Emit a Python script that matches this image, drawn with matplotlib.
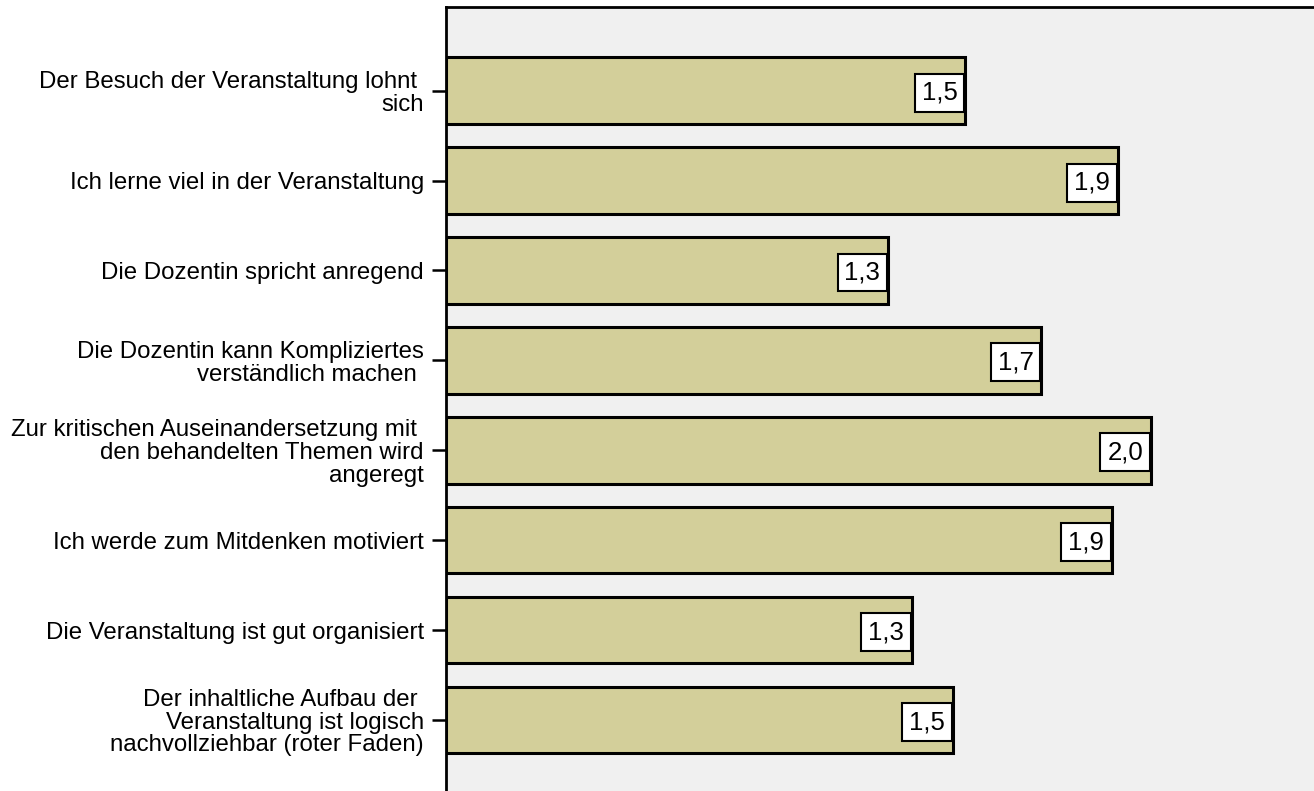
import numpy as np
import matplotlib.pyplot as plt

plt.rcParams['font.family'] = ['Liberation Sans', 'DejaVu Sans']

# items top to bottom
items = [
    "Der Besuch der Veranstaltung lohnt \nsich",
    "Ich lerne viel in der Veranstaltung",
    "Die Dozentin spricht anregend",
    "Die Dozentin kann Kompliziertes\nverständlich machen ",
    "Zur kritischen Auseinandersetzung mit \nden behandelten Themen wird\nangeregt",
    "Ich werde zum Mitdenken motiviert",
    "Die Veranstaltung ist gut organisiert",
    "Der inhaltliche Aufbau der \nVeranstaltung ist logisch\nnachvollziehbar (roter Faden)",
]
means = [1.495, 1.935, 1.273, 1.714, 2.03, 1.918, 1.342, 1.46]

BAR = "#d3cf9a"
BG = "#f0f0f0"

fig = plt.figure(figsize=(13.14, 7.91), dpi=100)
ax = fig.add_axes([446 / 1314, 0, 868 / 1314, 1 - 7 / 791])
ax.set_facecolor(BG)

y = np.arange(len(items))
ax.barh(y, means, height=0.74, color=BAR, edgecolor="black", linewidth=2.2)
for yi, v in zip(y, means):
    ax.annotate(f"{v:.1f}".replace(".", ","), xy=(v, yi), xytext=(-5.5, -1.5),
                textcoords="offset points", ha="right", va="center",
                fontsize=18.5,
                bbox=dict(boxstyle="square,pad=0.27", fc="white", ec="black", lw=1.5))

ax.set_xlim(0, 2.5)
ax.set_ylim(7.79, -0.93)
ax.set_yticks(y)
ax.set_yticklabels(items, fontsize=17.3, linespacing=1.04)
ax.tick_params(axis="y", length=10, width=1.8, pad=6)
ax.set_xticks([])
for s in ["right", "bottom"]:
    ax.spines[s].set_visible(False)
ax.spines["left"].set_linewidth(2)
ax.spines["top"].set_linewidth(2)

fig.savefig("out.png", dpi=100)
